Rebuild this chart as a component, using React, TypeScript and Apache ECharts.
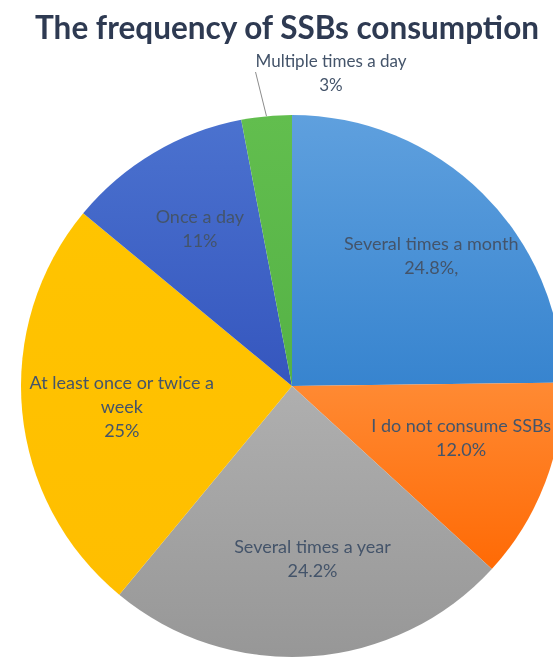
import React, { useEffect, useRef } from "react";
import * as echarts from "echarts";

const titleText = "The frequency of SSBs consumption";
const categories = [
  "Several times a month",
  "I do not consume SSBs",
  "Several times a year",
  "At least once or twice a\nweek",
  "Once a day",
  "Multiple times a day",
];
const values = [24.8, 12.0, 24.2, 25, 11, 3];
const valueLabels = ["24.8%,", "12.0%", "24.2%", "25%", "11%", "3%"];
const colorsTop = ["#5FA0DE", "#FF8A33", "#AFAFAF", "#FFC400", "#4B72CF", "#62BE4E"];
const colorsBottom = ["#3784CF", "#FF6A05", "#979797", "#FFBE00", "#3556BE", "#55B246"];

export default function App() {
  const ref = useRef<HTMLDivElement>(null);
  useEffect(() => {
    document.body.style.margin = "0";
    const chart = echarts.init(ref.current!, null, { renderer: "svg" });
    const cx = 292;
    const cy = 386;
    const R = 271;
    const nudges: [number, number][] = [
      [12, -2],
      [0, -14],
      [8, -9],
      [10, 3],
      [0, -2],
      [0, 0],
    ];
    const labelFont = {
      fontFamily: "Lato",
      fontSize: 18,
      lineHeight: 24,
      color: "#44546A",
      align: "center",
    };
    const data = categories.map((name, i) => ({
      name,
      value: values[i],
      itemStyle: {
        color: new echarts.graphic.LinearGradient(0, 0, 0, 1, [
          { offset: 0, color: colorsTop[i] },
          { offset: 1, color: colorsBottom[i] },
        ]),
      },
    }));
    const labelData = categories.map((name, i) => ({
      name,
      value: values[i],
      label: { show: i !== 5 },
    }));
    chart.setOption({
      animation: false,
      title: {
        text: titleText,
        left: 30,
        top: 6,
        textStyle: {
          fontFamily: "Lato",
          fontWeight: "bold",
          fontSize: 31.5,
          color: "#2E3A52",
        },
      },
      series: [
        {
          type: "pie",
          center: [cx, cy],
          radius: [0, R],
          startAngle: 90,
          clockwise: true,
          silent: true,
          data: data.map((d, i) => ({
            ...d,
            label: { show: i === 5 },
            labelLine: { show: i === 5 },
          })),
          label: {
            position: "outside",
            ...labelFont,
            fontSize: 17,
            formatter: (p: any) => `${p.name}\n${valueLabels[p.dataIndex]}`,
          },
          labelLine: {
            length: 20,
            length2: 0,
            lineStyle: { color: "#8C8C8C", width: 1 },
          },
          labelLayout: (p: any) =>
            p.dataIndex === 5 ? { x: 331, y: 72, align: "center", verticalAlign: "middle" } : {},
        },
        {
          type: "pie",
          center: [cx, cy],
          radius: [88, 268],
          startAngle: 90,
          clockwise: true,
          silent: true,
          itemStyle: { color: "rgba(0,0,0,0)" },
          data: labelData,
          label: {
            position: "inside",
            ...labelFont,
            formatter: (p: any) => `${p.name}\n${valueLabels[p.dataIndex]}`,
          },
          labelLine: { show: false },
          labelLayout: (p: any) => ({ dx: nudges[p.dataIndex][0], dy: nudges[p.dataIndex][1] }),
        },
      ],
    });
    return () => chart.dispose();
  }, []);
  return (
    <div
      ref={ref}
      style={{ position: "fixed", left: 0, top: 0, width: 553, height: 658 }}
    />
  );
}
